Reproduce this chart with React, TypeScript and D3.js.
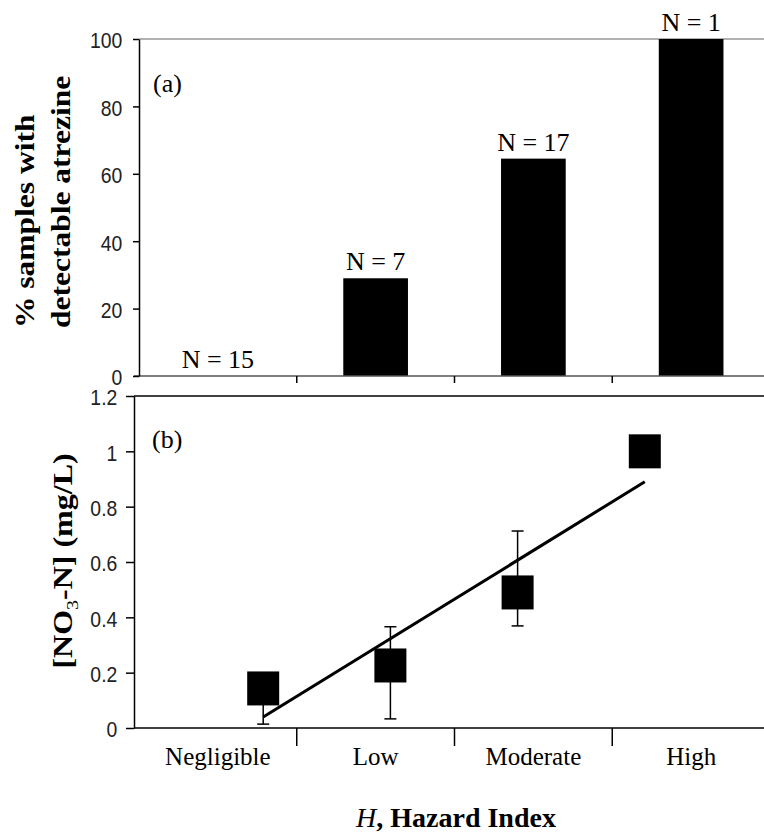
import React, { useEffect, useRef } from "react";
import * as d3 from "d3";

// hazard categories shared by both panels
const categories = ["Negligible", "Low", "Moderate", "High"];
// (a) % samples with detectable atrazine, and sample counts
const pctDetected = [0, 29, 64.5, 100];
const sampleCounts = [15, 7, 17, 1];
const pctTicks = [0, 20, 40, 60, 80, 100];
// (b) nitrate means with error bar ends
const hazardLevel = [1, 2, 3, 4];
const nitrateMean = [0.143, 0.226, 0.49, 1.0];
const nitrateUpper = [0.19, 0.366, 0.712, null];
const nitrateLower = [0.014, 0.033, 0.369, null];
const nitrateTicks = [0, 0.2, 0.4, 0.6, 0.8, 1, 1.2];

const W = 764, H = 835;
const SERIF = "'Liberation Serif', 'Times New Roman', serif";
const SANS = "'Liberation Sans', Arial, sans-serif";

export default function App() {
  const ref = useRef<SVGSVGElement>(null);

  useEffect(() => {
    const svg = d3.select(ref.current);
    svg.selectAll("*").remove();

    const xBand = d3.scaleBand().domain(categories).range([139, 770]);
    const bw = xBand.bandwidth();
    const mid = (c) => (xBand(c) as number) + bw / 2;

    const styleTicks = (g) => {
      g.select(".domain").attr("stroke", "#000").attr("stroke-width", 1.5);
      g.selectAll(".tick line").attr("stroke", "#000").attr("stroke-width", 1.5);
      g.selectAll(".tick text")
        .attr("font-family", SANS)
        .attr("font-size", 22)
        .attr("fill", "#222")
        .attr("dy", "0.4em")
        .attr("transform", "scale(0.88,1)");
    };

    // ---------- panel (a) ----------
    const yTop = d3.scaleLinear().domain([0, 100]).range([376, 39]);
    const a = svg.append("g");

    a.append("line")
      .attr("x1", 139).attr("x2", W)
      .attr("y1", yTop(100)).attr("y2", yTop(100))
      .attr("stroke", "#999").attr("stroke-width", 1.5);

    const barW = bw * 0.41;
    a.selectAll("rect.bar")
      .data(pctDetected)
      .enter()
      .append("rect")
      .attr("class", "bar")
      .attr("x", (d, i) => mid(categories[i]) - barW / 2)
      .attr("y", (d) => yTop(d))
      .attr("width", barW)
      .attr("height", (d) => yTop(0) - yTop(d))
      .attr("fill", "#000");

    a.selectAll("text.n")
      .data(sampleCounts)
      .enter()
      .append("text")
      .attr("class", "n")
      .attr("x", (d, i) => mid(categories[i]))
      .attr("y", (d, i) => yTop(pctDetected[i]) - 8)
      .attr("text-anchor", "middle")
      .attr("font-family", SERIF)
      .attr("font-size", 26)
      .text((d) => "N = " + d);

    // x axis of (a)
    a.append("line")
      .attr("x1", 134).attr("x2", W)
      .attr("y1", yTop(0)).attr("y2", yTop(0))
      .attr("stroke", "#555").attr("stroke-width", 1.5);
    a.selectAll("line.xt")
      .data(categories.slice(1))
      .enter()
      .append("line")
      .attr("class", "xt")
      .attr("x1", (c) => xBand(c)).attr("x2", (c) => xBand(c))
      .attr("y1", yTop(0)).attr("y2", yTop(0) + 7)
      .attr("stroke", "#000").attr("stroke-width", 1.5);

    a.append("g")
      .attr("transform", "translate(139,0)")
      .call(d3.axisLeft(yTop).tickValues(pctTicks).tickSize(6).tickSizeOuter(0).tickPadding(13))
      .call(styleTicks);

    a.append("text")
      .attr("x", 153).attr("y", 92)
      .attr("font-family", SERIF).attr("font-size", 26)
      .text("(a)");

    const yTitleA = a.append("text")
      .attr("transform", "translate(0,328) rotate(-90) scale(1,0.87)")
      .attr("font-family", SERIF).attr("font-weight", "bold").attr("font-size", 31.5);
    yTitleA.append("tspan").attr("x", 0).attr("y", 39).text("% samples with");
    yTitleA.append("tspan").attr("x", 0).attr("y", 80).text("detectable atrezine");

    // ---------- panel (b) ----------
    const yBot = d3.scaleLinear().domain([0, 1.2]).range([728, 396]);
    const xLin = d3.scaleLinear().domain([0, 5]).range([136, 772]);
    const b = svg.append("g");

    b.append("line")
      .attr("x1", 134).attr("x2", W)
      .attr("y1", yBot(1.2)).attr("y2", yBot(1.2))
      .attr("stroke", "#000").attr("stroke-width", 1.5);
    b.append("line")
      .attr("x1", 134).attr("x2", W)
      .attr("y1", yBot(0)).attr("y2", yBot(0))
      .attr("stroke", "#000").attr("stroke-width", 1.5);
    b.selectAll("line.xt")
      .data(categories.slice(1))
      .enter()
      .append("line")
      .attr("class", "xt")
      .attr("x1", (c) => xBand(c)).attr("x2", (c) => xBand(c))
      .attr("y1", yBot(0)).attr("y2", yBot(0) + 18)
      .attr("stroke", "#000").attr("stroke-width", 1.5);

    b.append("g")
      .attr("transform", "translate(134,0)")
      .call(d3.axisLeft(yBot).tickValues(nitrateTicks).tickSize(8).tickSizeOuter(0).tickPadding(11).tickFormat((d) => String(d)))
      .call(styleTicks);

    // error bars
    const capW = 12;
    hazardLevel.forEach((h, i) => {
      if (nitrateUpper[i] == null) return;
      const cx = xLin(h);
      const y1 = yBot(nitrateLower[i] as number), y2 = yBot(nitrateUpper[i] as number);
      b.append("line").attr("x1", cx).attr("x2", cx).attr("y1", y1).attr("y2", y2)
        .attr("stroke", "#000").attr("stroke-width", 1.5);
      [y1, y2].forEach((yy) => {
        b.append("line").attr("x1", cx - capW / 2).attr("x2", cx + capW / 2)
          .attr("y1", yy).attr("y2", yy)
          .attr("stroke", "#000").attr("stroke-width", 1.5);
      });
    });

    // markers
    const mw = 32, mh = 34;
    b.selectAll("rect.m")
      .data(nitrateMean)
      .enter()
      .append("rect")
      .attr("class", "m")
      .attr("x", (d, i) => xLin(hazardLevel[i]) - mw / 2)
      .attr("y", (d) => yBot(d) - mh / 2)
      .attr("width", mw).attr("height", mh)
      .attr("fill", "#000");

    // linear trend (least squares)
    const mx = d3.mean(hazardLevel) as number;
    const my = d3.mean(nitrateMean) as number;
    const slope =
      d3.sum(hazardLevel, (x, i) => (x - mx) * (nitrateMean[i] - my)) /
      d3.sum(hazardLevel, (x) => (x - mx) * (x - mx));
    const icpt = my - slope * mx;
    const ends = [d3.min(hazardLevel) as number, d3.max(hazardLevel) as number];
    b.append("path")
      .attr("d", d3.line<number>().x((x) => xLin(x)).y((x) => yBot(icpt + slope * x))(ends))
      .attr("stroke", "#000").attr("stroke-width", 3).attr("fill", "none");

    b.append("text")
      .attr("x", 152).attr("y", 448)
      .attr("font-family", SERIF).attr("font-size", 26)
      .text("(b)");

    // category labels
    b.selectAll("text.cat")
      .data(categories)
      .enter()
      .append("text")
      .attr("class", "cat")
      .attr("x", (c) => mid(c))
      .attr("y", 765)
      .attr("text-anchor", "middle")
      .attr("font-family", SERIF).attr("font-size", 25)
      .text((c) => c);

    const yTitleB = b.append("text")
      .attr("transform", "translate(72,561) rotate(-90) scale(1,0.87)")
      .attr("text-anchor", "middle")
      .attr("font-family", SERIF).attr("font-weight", "bold").attr("font-size", 32);
    yTitleB.append("tspan").text("[NO");
    yTitleB.append("tspan").attr("dy", 7).attr("font-size", 20).attr("font-weight", "normal").text("3");
    yTitleB.append("tspan").attr("dy", -7).text("-N] (mg/L)");

    const xTitle = svg.append("text")
      .attr("x", 456).attr("y", 827)
      .attr("text-anchor", "middle")
      .attr("font-family", SERIF).attr("font-size", 28);
    xTitle.append("tspan").attr("font-style", "italic").text("H");
    xTitle.append("tspan").attr("font-weight", "bold").text(", Hazard Index");
  }, []);

  return (
    <svg
      ref={ref}
      width={W}
      height={H}
      style={{ position: "absolute", left: 0, top: 0, background: "#fff" }}
    />
  );
}
